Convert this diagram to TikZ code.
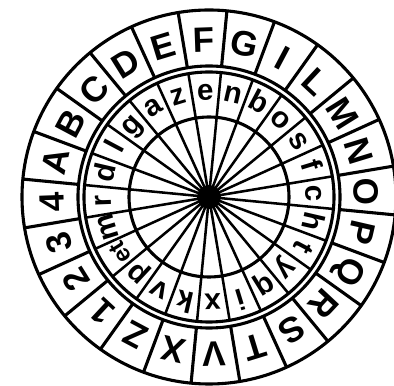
\documentclass[tikz,border=0pt]{standalone}
\usepackage{fontspec}
\setmainfont{Liberation Sans}
\begin{document}
\begin{tikzpicture}[x=0.025cm,y=0.025cm,
  ring/.style={line width=2.2pt},
  spoke/.style={line width=1.8pt},
  upper/.style={font=\fontsize{25}{25}\bfseries\selectfont,inner sep=0pt},
  lower/.style={font=\fontsize{21}{21}\bfseries\selectfont,inner sep=0pt,text height=1ex,text depth=0pt}]
  \useasboundingbox (-209,-189) rectangle (185,197);
  % circles of the disk
  \draw[ring] (0,0) circle (187);
  \draw[ring] (0,0) circle (131);
  \draw[ring] (0,0) circle (125);
  \draw[ring] (0,0) circle (80);
  % spokes and cell walls
  \foreach \k in {0,...,23}{
    \draw[spoke] (0,0) -- (84.5+15*\k:125);
    \draw[ring] (84.5+15*\k:131) -- (84.5+15*\k:187);
  }
  \fill (0,0) circle (12);
  % outer ring
  \foreach \t [count=\i from 0] in {A,B,C,D,E,F,G,I,L,M,N,O,P,Q,R,S,T,V,X,Z,1,2,3,4}
    \node[upper,rotate=77-15*\i] (out\i) at (167-15*\i:157) {\t};
  % inner ring
  \foreach \t [count=\i from 0] in {g,a,z,e,n,b,o,s,f,c,h,t,y,q,i,x,k,v,p,{\fontsize{17}{17}\selectfont et},m,r,d,l}
    \node[lower,rotate=47-15*\i] (in\i) at (137-15*\i:101) {\t};
\end{tikzpicture}
\end{document}
